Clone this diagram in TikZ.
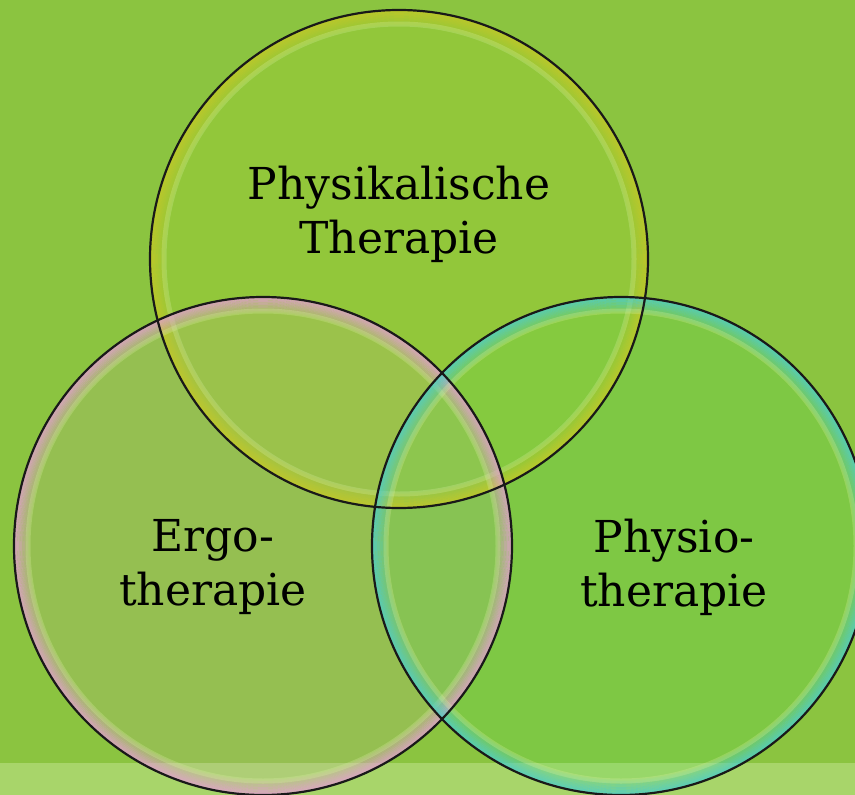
\documentclass[tikz,border=0pt]{standalone}
\usepackage{fontspec}
\setmainfont{DejaVu Serif}
\definecolor{bggreen}{RGB}{139,196,64}
\definecolor{bandgreen}{RGB}{168,213,106}
\definecolor{rimyellow}{RGB}{195,200,40}
\definecolor{rimpink}{RGB}{225,160,205}
\definecolor{rimcyan}{RGB}{80,205,200}
\definecolor{glow}{RGB}{225,245,170}
\tikzset{
  bubblefill/.style={fill=#1,fill opacity=0.12,draw=none},
  bubbleline/.style={draw=black!90,line width=2.2pt},
  label/.style={font=\fontsize{44}{54}\selectfont,align=center,text=black,inner sep=0pt}
}
% rim of one bubble: colour fading inwards, then a light ring
\newcommand{\bubblerim}[3]{%
  \foreach \k in {0,...,9}
    \draw [#3,line width=1.6pt,opacity={0.8-0.075*\k}] (#1) circle ({#2-1-1.5*\k});
  \draw [glow,line width=5pt,opacity=0.25] (#1) circle ({#2-14});
}
\begin{document}
\begin{tikzpicture}[x=1pt,y=-1pt]
  \useasboundingbox (0,0) rectangle (855,795);
  \fill [bggreen] (0,0) rectangle (855,795);
  \fill [bandgreen] (0,763) rectangle (855,795);
  \clip (0,0) rectangle (855,795);
  \coordinate (top) at (399,259);
  \coordinate (left) at (263,546);
  \coordinate (right) at (621,546);
  \fill [bubblefill=yellow!80!green] (top) circle (249);
  \fill [bubblefill=rimpink] (left) circle (249);
  \fill [bubblefill=rimcyan!50!green] (right) circle (249);
  \bubblerim{top}{249}{rimyellow}
  \bubblerim{left}{249}{rimpink}
  \bubblerim{right}{249}{rimcyan}
  \draw [bubbleline] (top) circle (249);
  \draw [bubbleline] (left) circle (249);
  \draw [bubbleline] (right) circle (249);
  \node [label] (phys) at (399,214) {Physikalische\\Therapie};
  \node [label] (ergo) at (213,567) {Ergo-\\therapie};
  \node [label] (physio) at (674,567) {Physio-\\therapie};
\end{tikzpicture}
\end{document}
